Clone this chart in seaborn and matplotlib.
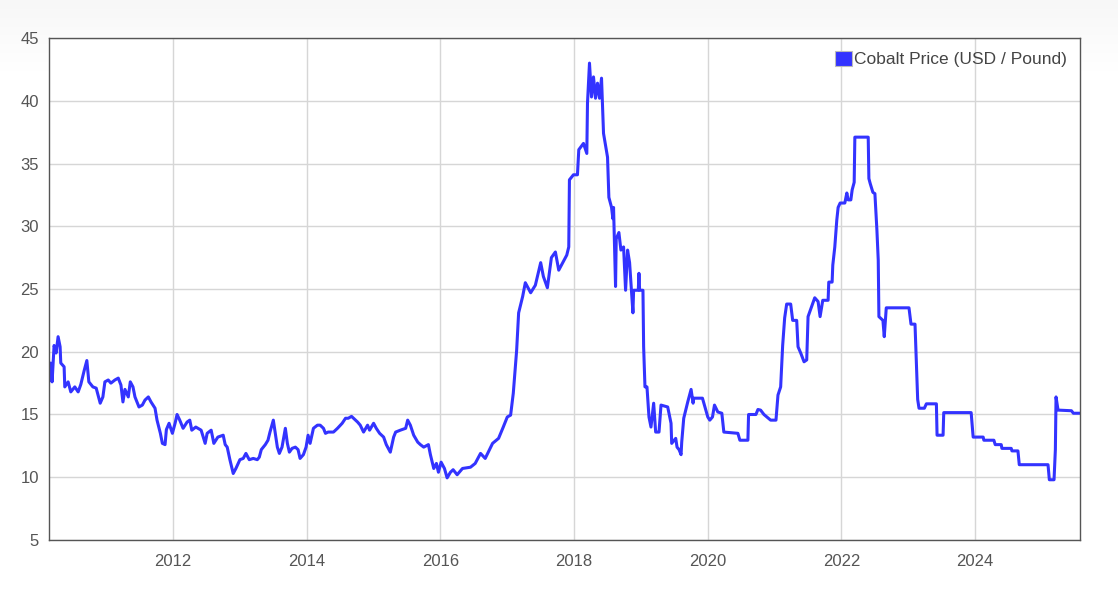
import matplotlib
matplotlib.use('Agg')
import matplotlib.pyplot as plt
from matplotlib.patches import Patch
import numpy as np
import pandas as pd
import seaborn as sns

# cobalt price (decimal year, USD / lb)
years = [
    2010.14, 2010.17, 2010.19, 2010.22, 2010.25, 2010.28, 2010.31, 2010.32, 2010.37, 2010.38,
    2010.43, 2010.47, 2010.53, 2010.58, 2010.62, 2010.67, 2010.71, 2010.74, 2010.80, 2010.85,
    2010.91, 2010.95, 2010.98, 2011.03, 2011.07, 2011.13, 2011.18, 2011.22, 2011.25, 2011.28,
    2011.33, 2011.36, 2011.40, 2011.43, 2011.49, 2011.54, 2011.58, 2011.63, 2011.67, 2011.73,
    2011.76, 2011.81, 2011.84, 2011.88, 2011.90, 2011.94, 2011.99, 2012.03, 2012.06, 2012.10,
    2012.15, 2012.21, 2012.25, 2012.28, 2012.34, 2012.42, 2012.48, 2012.51, 2012.57, 2012.61,
    2012.67, 2012.75, 2012.78, 2012.81, 2012.85, 2012.90, 2012.94, 2013.00, 2013.05, 2013.09,
    2013.14, 2013.20, 2013.26, 2013.29, 2013.32, 2013.38, 2013.42, 2013.45, 2013.50, 2013.53,
    2013.56, 2013.59, 2013.63, 2013.68, 2013.71, 2013.74, 2013.78, 2013.83, 2013.87, 2013.90,
    2013.95, 2013.99, 2014.02, 2014.05, 2014.10, 2014.16, 2014.20, 2014.25, 2014.28, 2014.32,
    2014.40, 2014.46, 2014.53, 2014.58, 2014.62, 2014.67, 2014.70, 2014.76, 2014.80, 2014.85,
    2014.91, 2014.94, 2015.00, 2015.04, 2015.09, 2015.15, 2015.19, 2015.25, 2015.30, 2015.33,
    2015.40, 2015.48, 2015.51, 2015.55, 2015.60, 2015.66, 2015.70, 2015.75, 2015.82, 2015.85,
    2015.90, 2015.94, 2015.97, 2016.01, 2016.06, 2016.10, 2016.15, 2016.19, 2016.25, 2016.33,
    2016.45, 2016.52, 2016.60, 2016.67, 2016.78, 2016.87, 2016.94, 2017.00, 2017.05, 2017.09,
    2017.14, 2017.17, 2017.23, 2017.27, 2017.35, 2017.42, 2017.50, 2017.54, 2017.60, 2017.66,
    2017.72, 2017.77, 2017.83, 2017.89, 2017.92, 2017.93, 2017.99, 2018.05, 2018.07, 2018.14,
    2018.19, 2018.20, 2018.23, 2018.26, 2018.29, 2018.32, 2018.35, 2018.38, 2018.41, 2018.44,
    2018.50, 2018.52, 2018.56, 2018.58, 2018.59, 2018.62, 2018.63, 2018.67, 2018.70, 2018.74,
    2018.77, 2018.80, 2018.83, 2018.88, 2018.89, 2018.96, 2018.97, 2018.98, 2019.03, 2019.04,
    2019.06, 2019.09, 2019.12, 2019.15, 2019.19, 2019.22, 2019.27, 2019.30, 2019.40, 2019.45,
    2019.46, 2019.52, 2019.54, 2019.57, 2019.60, 2019.61, 2019.64, 2019.70, 2019.75, 2019.78,
    2019.79, 2019.92, 2020.00, 2020.03, 2020.07, 2020.10, 2020.15, 2020.21, 2020.24, 2020.45,
    2020.48, 2020.60, 2020.61, 2020.72, 2020.75, 2020.79, 2020.84, 2020.94, 2021.02, 2021.05,
    2021.09, 2021.12, 2021.15, 2021.18, 2021.24, 2021.27, 2021.33, 2021.35, 2021.39, 2021.44,
    2021.48, 2021.50, 2021.56, 2021.60, 2021.65, 2021.68, 2021.72, 2021.80, 2021.81, 2021.86,
    2021.87, 2021.90, 2021.93, 2021.95, 2021.98, 2022.05, 2022.08, 2022.10, 2022.14, 2022.16,
    2022.19, 2022.20, 2022.40, 2022.41, 2022.43, 2022.47, 2022.50, 2022.53, 2022.55, 2022.56,
    2022.62, 2022.64, 2022.67, 2023.01, 2023.04, 2023.10, 2023.13, 2023.14, 2023.16, 2023.24,
    2023.27, 2023.42, 2023.43, 2023.52, 2023.53, 2023.94, 2023.97, 2024.12, 2024.13, 2024.28,
    2024.30, 2024.39, 2024.40, 2024.54, 2024.55, 2024.64, 2024.66, 2025.09, 2025.11, 2025.18,
    2025.20, 2025.21, 2025.24, 2025.44, 2025.47, 2025.57,
]
prices = [
    17.6, 19.1, 17.6, 20.5, 19.9, 21.2, 20.4, 19.1, 18.8, 17.2,
    17.6, 16.8, 17.2, 16.8, 17.4, 18.5, 19.3, 17.6, 17.2, 17.1,
    15.9, 16.4, 17.6, 17.75, 17.5, 17.75, 17.9, 17.35, 16.0, 17.0,
    16.4, 17.6, 17.2, 16.4, 15.6, 15.75, 16.15, 16.4, 16.0, 15.5,
    14.55, 13.5, 12.7, 12.6, 13.8, 14.3, 13.5, 14.3, 15.0, 14.55,
    13.9, 14.4, 14.55, 13.75, 14.0, 13.75, 12.7, 13.5, 13.75, 12.7,
    13.2, 13.35, 12.6, 12.4, 11.4, 10.3, 10.7, 11.4, 11.5, 11.9,
    11.4, 11.5, 11.4, 11.6, 12.2, 12.6, 12.95, 13.6, 14.55, 13.5,
    12.4, 11.9, 12.4, 13.9, 12.7, 12.0, 12.3, 12.4, 12.2, 11.5,
    11.8, 12.4, 13.35, 12.7, 13.9, 14.15, 14.15, 13.9, 13.5, 13.6,
    13.6, 13.9, 14.3, 14.7, 14.7, 14.85, 14.7, 14.4, 14.15, 13.6,
    14.15, 13.75, 14.3, 13.9, 13.5, 13.2, 12.6, 12.0, 13.2, 13.6,
    13.75, 13.9, 14.55, 14.15, 13.35, 12.8, 12.6, 12.4, 12.6, 11.8,
    10.7, 11.1, 10.4, 11.2, 10.7, 9.95, 10.4, 10.6, 10.2, 10.7,
    10.8, 11.1, 11.9, 11.5, 12.7, 13.1, 14.0, 14.8, 14.95, 16.7,
    20.1, 23.1, 24.4, 25.5, 24.7, 25.3, 27.1, 26.0, 25.1, 27.5,
    27.95, 26.5, 27.1, 27.7, 28.35, 33.7, 34.1, 34.1, 36.1, 36.6,
    35.8, 39.8, 43.0, 40.3, 41.9, 40.2, 41.4, 40.2, 41.8, 37.4,
    35.5, 32.3, 31.5, 30.6, 31.5, 25.2, 29.0, 29.5, 28.1, 28.35,
    24.9, 28.1, 27.1, 23.1, 24.9, 24.9, 26.25, 24.9, 24.9, 20.4,
    17.2, 17.2, 14.8, 14.0, 15.9, 13.6, 13.6, 15.75, 15.6, 14.3,
    12.7, 13.1, 12.4, 12.2, 11.8, 12.8, 14.7, 16.0, 17.0, 15.9,
    16.3, 16.3, 14.8, 14.55, 14.8, 15.75, 15.2, 15.1, 13.6, 13.5,
    12.95, 12.95, 15.0, 15.0, 15.4, 15.35, 15.0, 14.55, 14.55, 16.55,
    17.2, 20.5, 22.7, 23.8, 23.8, 22.5, 22.5, 20.4, 19.9, 19.2,
    19.35, 22.8, 23.7, 24.3, 24.0, 22.8, 24.1, 24.1, 25.55, 25.55,
    26.9, 28.35, 30.5, 31.5, 31.85, 31.85, 32.65, 32.1, 32.1, 32.9,
    33.5, 37.1, 37.1, 33.8, 33.4, 32.7, 32.6, 29.7, 27.3, 22.8,
    22.5, 21.2, 23.5, 23.5, 22.2, 22.2, 17.6, 16.2, 15.5, 15.5,
    15.85, 15.85, 13.35, 13.35, 15.15, 15.15, 13.2, 13.2, 12.95, 12.95,
    12.6, 12.6, 12.3, 12.3, 12.1, 12.1, 11.0, 11.0, 9.8, 9.8,
    12.2, 16.4, 15.35, 15.3, 15.1, 15.1,
]
year_ticks = [2012, 2014, 2016, 2018, 2020, 2022, 2024]
price_ticks = [5, 10, 15, 20, 25, 30, 35, 40, 45]
series_label = 'Cobalt Price (USD / Pound)'

line_color = '#3333ff'

sns.set_style('white')
plt.rcParams['font.family'] = ['Liberation Sans', 'DejaVu Sans']

df = pd.DataFrame({'year': years, 'price': prices})

fig = plt.figure(figsize=(11.18, 5.91), dpi=100)

# faint grey band at the top of the page
bg = fig.add_axes([0, 0, 1, 1], zorder=-10)
grad = np.linspace(0.965, 1.0, 80)
bg.imshow(np.concatenate([grad, np.ones(511)])[:, None], cmap='gray', vmin=0, vmax=1,
          aspect='auto', extent=[0, 1, 0, 1])
bg.axis('off')

ax = fig.add_axes([0.0436, 0.0863, 0.9225, 0.8494])
sns.lineplot(data=df, x='year', y='price', ax=ax, color=line_color, linewidth=2.2,
             estimator=None, sort=False)

ax.set_xlim(2010.14, 2025.57)
ax.set_ylim(5, 45)
ax.set_xticks(year_ticks)
ax.set_xticklabels([str(y) for y in year_ticks])
ax.set_yticks(price_ticks)
ax.set_xlabel('')
ax.set_ylabel('')
ax.grid(True, color='#d6d6d6', linewidth=1)
ax.set_axisbelow(True)
ax.tick_params(axis='both', length=0, labelsize=12, labelcolor='#555555')
ax.tick_params(axis='x', pad=10)
ax.tick_params(axis='y', pad=7)
for s in ax.spines.values():
    s.set_color('#555555')
    s.set_linewidth(1)
ax.set_facecolor('white')

handle = Patch(facecolor=line_color, edgecolor='#bbbbbb', linewidth=0.8)
ax.legend([handle], [series_label], loc='upper right', frameon=False,
          handlelength=0.95, handleheight=0.95, handletextpad=0.15,
          borderaxespad=0.35, fontsize=12.5, labelcolor='#444444')

fig.savefig('out.png', dpi=100, facecolor='white')
